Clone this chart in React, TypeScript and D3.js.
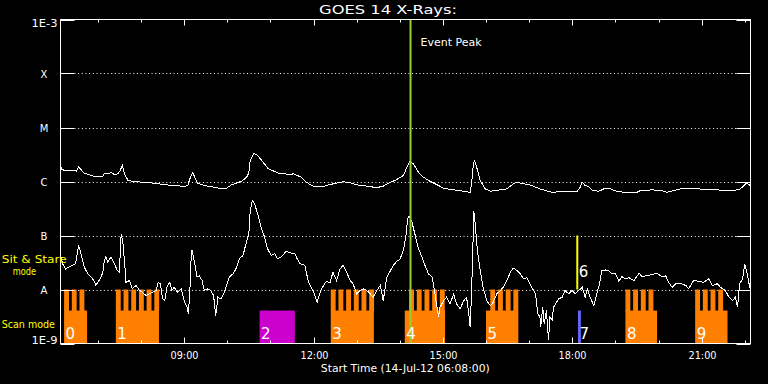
import React from 'react';
import * as d3 from 'd3';

// ---------- data ----------
const START = new Date(2012, 6, 14, 6, 8, 0);
const END = new Date(2012, 6, 14, 22, 8, 0);

// [minutes since 06:08, flux W/m^2]  — 1-8 Å channel
const goesLong: [number, number][] = [
  [0, 1.98e-6], [2, 1.67e-6], [6, 1.6e-6], [20, 1.6e-6], [22, 1.55e-6], [25, 1.87e-6], [33, 1.42e-6], [47, 1.25e-6], [59, 1.25e-6], [61, 1.39e-6],
  [71, 1.45e-6], [75, 1.35e-6], [80, 1.39e-6], [83, 1.6e-6], [86, 1.98e-6], [89, 1.39e-6], [94, 1.04e-6], [103, 1.0e-6], [117, 9.6e-7], [131, 9.3e-7],
  [145, 8.7e-7], [159, 8.4e-7], [173, 8.1e-7], [177, 8.4e-7], [180, 1.12e-6], [184, 1.47e-6], [187, 1.17e-6], [191, 9.3e-7], [201, 8.4e-7], [215, 7.8e-7],
  [224, 7.3e-7], [231, 7.5e-7], [238, 8.7e-7], [252, 1.01e-6], [259, 1.2e-6], [262, 1.45e-6], [264, 2.45e-6], [269, 3.26e-6], [273, 3.16e-6], [280, 2.45e-6],
  [289, 1.72e-6], [298, 1.53e-6], [305, 1.39e-6], [312, 1.39e-6], [319, 1.33e-6], [324, 1.39e-6], [335, 1.2e-6], [342, 9.7e-7], [352, 8.1e-7], [366, 8.1e-7],
  [375, 8.8e-7], [384, 9.3e-7], [393, 9.9e-7], [403, 9.5e-7], [412, 8.7e-7], [426, 8.2e-7], [440, 7.7e-7], [449, 8.2e-7], [458, 9.5e-7], [468, 1.09e-6],
  [477, 1.29e-6], [482, 1.84e-6], [486, 2.35e-6], [491, 2.13e-6], [498, 1.49e-6], [505, 1.2e-6], [514, 1.01e-6], [524, 8.7e-7], [533, 7.5e-7], [547, 7.0e-7],
  [561, 6.6e-7], [570, 6.3e-7], [572, 9.1e-7], [574, 1.84e-6], [576, 2.52e-6], [579, 1.84e-6], [584, 1.04e-6], [591, 7.3e-7], [598, 6.6e-7], [612, 7.0e-7],
  [621, 7.3e-7], [630, 9.1e-7], [635, 9.6e-7], [644, 9.1e-7], [654, 8.6e-7], [667, 7.3e-7], [684, 6.3e-7], [702, 6.6e-7], [719, 6.6e-7], [723, 7.8e-7],
  [726, 9.7e-7], [730, 8.4e-7], [735, 8.1e-7], [740, 6.8e-7], [749, 6.6e-7], [756, 7.3e-7], [765, 7.3e-7], [774, 6.6e-7], [788, 6.2e-7], [802, 6.3e-7],
  [807, 6.8e-7], [823, 7.0e-7], [837, 6.8e-7], [844, 6.3e-7], [863, 7.3e-7], [883, 7.3e-7], [902, 7.2e-7], [925, 6.8e-7], [944, 7.0e-7], [951, 8.4e-7],
  [954, 9.3e-7], [958, 8.8e-7], [960, 7.8e-7],
];

// [minutes since 06:08, flux W/m^2]  — 0.5-4 Å channel
const goesShort: [number, number][] = [
  [0, 4.3e-8], [3, 3.0e-8], [7, 2.4e-8], [14, 2.7e-8], [21, 3.0e-8], [24, 5.3e-8], [25, 6.5e-8], [28, 4.9e-8], [33, 2.6e-8], [38, 1.95e-8],
  [42, 1.74e-8], [47, 1.42e-8], [49, 1.19e-8], [52, 1.36e-8], [56, 1.65e-8], [59, 2.1e-8], [61, 3.4e-8], [63, 4.0e-8], [66, 3.2e-8], [70, 4.0e-8],
  [75, 3.0e-8], [79, 2.25e-8], [82, 2.1e-8], [84, 9.3e-8], [85, 1.0e-7], [87, 7.0e-8], [90, 2.25e-8], [91, 1.36e-8], [96, 1.47e-8], [100, 1.03e-8],
  [105, 1.19e-8], [110, 9.6e-9], [114, 8.9e-9], [119, 7.7e-9], [124, 8.3e-9], [128, 8.9e-9], [133, 9.6e-9], [136, 1.36e-8], [139, 1.28e-8], [142, 6.7e-9],
  [145, 6.2e-9], [148, 1.1e-8], [152, 1.36e-8], [155, 9.6e-9], [158, 1.1e-8], [163, 8.9e-9], [168, 1.03e-8], [172, 6.2e-9], [176, 4.7e-9], [178, 3.55e-9],
  [180, 9.6e-9], [182, 4.6e-8], [183, 5.3e-8], [186, 3.4e-8], [190, 1.7e-8], [193, 1.8e-8], [197, 1.47e-8], [200, 9.6e-9], [205, 1.03e-8], [209, 9.6e-9],
  [213, 7.7e-9], [216, 3.3e-9], [219, 7.2e-9], [223, 6.7e-9], [227, 8.3e-9], [230, 1.1e-8], [235, 1.7e-8], [240, 1.95e-8], [244, 2.4e-8], [249, 3.7e-8],
  [254, 4.3e-8], [258, 7.0e-8], [262, 1.07e-7], [264, 2.9e-7], [267, 4.45e-7], [270, 3.86e-7], [275, 2.35e-7], [279, 1.42e-7], [284, 9.3e-8], [288, 5.7e-8],
  [293, 4.3e-8], [298, 4.6e-8], [302, 3.7e-8], [307, 4.0e-8], [314, 5.1e-8], [321, 4.7e-8], [326, 4.65e-8], [328, 4.0e-8], [333, 3.0e-8], [340, 2.8e-8],
  [345, 1.36e-8], [349, 1.1e-8], [353, 8.3e-9], [357, 5.8e-9], [362, 9.6e-9], [366, 1.19e-8], [370, 1.42e-8], [375, 1.31e-8], [379, 2.1e-8], [384, 1.47e-8],
  [389, 2.4e-8], [393, 2.8e-8], [398, 2.1e-8], [403, 1.47e-8], [407, 1.28e-8], [412, 8.3e-9], [417, 9.6e-9], [421, 1.03e-8], [426, 9.6e-9], [431, 8.3e-9],
  [435, 7.2e-9], [440, 9.6e-9], [445, 1.19e-8], [449, 6.2e-9], [454, 1.7e-8], [458, 2.1e-8], [463, 2.8e-8], [468, 3.35e-8], [472, 3.55e-8], [477, 5.3e-8],
  [481, 1.07e-7], [483, 2.04e-7], [485, 2.25e-7], [489, 1.76e-7], [493, 1.07e-7], [498, 5.7e-8], [503, 4.0e-8], [507, 2.8e-8], [512, 1.95e-8], [517, 1.7e-8],
  [521, 8.3e-9], [526, 3.1e-9], [528, 4.7e-9], [533, 6.2e-9], [537, 7.2e-9], [542, 5.4e-9], [547, 8.3e-9], [551, 5.4e-9], [556, 4.4e-9], [561, 6.2e-9],
  [565, 7.2e-9], [568, 3.55e-9], [570, 2.0e-9], [572, 9.6e-9], [574, 8.1e-8], [575, 2.8e-7], [577, 1.65e-7], [580, 5.3e-8], [584, 2.25e-8], [588, 1.1e-8],
  [593, 6.2e-9], [598, 5.0e-9], [602, 5.8e-9], [607, 8.3e-9], [612, 9.6e-9], [616, 1.1e-8], [621, 1.47e-8], [626, 2.1e-8], [630, 2.5e-8], [635, 2.25e-8],
  [640, 1.95e-8], [644, 1.58e-8], [649, 1.65e-8], [654, 1.19e-8], [661, 8.3e-9], [664, 3.55e-9], [667, 3.1e-9], [668, 2.0e-9], [671, 4.7e-9], [673, 2.3e-9],
  [676, 4.1e-9], [679, 1.14e-9], [681, 3.1e-9], [684, 2.7e-9], [686, 4.7e-9], [690, 5.8e-9], [693, 6.7e-9], [698, 7.2e-9], [702, 9.6e-9], [707, 8.3e-9],
  [712, 9.6e-9], [716, 8.3e-9], [721, 9.6e-9], [726, 1.1e-8], [730, 7.2e-9], [733, 1.03e-8], [737, 7.2e-9], [742, 5.0e-9], [746, 8.3e-9], [750, 1.28e-8],
  [753, 2.25e-8], [758, 2.3e-8], [763, 2.2e-8], [767, 1.95e-8], [772, 1.95e-8], [777, 1.42e-8], [781, 1.74e-8], [786, 1.58e-8], [791, 1.65e-8], [798, 1.47e-8],
  [805, 2.0e-8], [809, 1.74e-8], [816, 1.8e-8], [823, 1.9e-8], [830, 2.0e-8], [837, 1.7e-8], [842, 1.8e-8], [846, 1.36e-8], [851, 1.1e-8], [856, 1.28e-8],
  [863, 1.28e-8], [870, 1.19e-8], [874, 1.03e-8], [881, 1.47e-8], [888, 1.42e-8], [895, 1.36e-8], [902, 1.58e-8], [907, 1.19e-8], [914, 1.28e-8], [918, 1.1e-8],
  [925, 9.6e-9], [930, 7.2e-9], [935, 6.2e-9], [939, 7.2e-9], [942, 4.7e-9], [945, 1.28e-8], [949, 1.58e-8], [952, 3.0e-8], [955, 2.1e-8], [958, 1.28e-8],
  [960, 9.6e-9],
];

const yTickValues = [1e-9, 1e-8, 1e-7, 1e-6, 1e-5, 1e-4, 1e-3];
const yTickLabels = ['1E-9', 'A', 'B', 'C', 'M', 'X', '1E-3'];
const gridValues = [1e-8, 1e-7, 1e-6, 1e-5, 1e-4];

// scan-mode observations (orange)
const scanLabels = ['0', '1', '3', '4', '5', '8', '9'];
const scanStart = ['06:13', '07:25', '12:24', '14:07', '16:00', '19:14', '20:51'];
const scanEnd = ['06:45', '08:25', '13:24', '15:03', '16:45', '19:58', '21:36'];
const scanTeethStart = ['06:13', '07:25', '12:24', '14:13', '16:06', '19:14', '20:51'];
const scanTeethCount = [3, 6, 6, 5, 4, 4, 4];
const SCAN_PERIOD_MIN = 10.7;
const SCAN_DWELL_MIN = 6.8;

// other observations
const sitStareLabel = '2';
const sitStareStart = '10:45';
const sitStareEnd = '11:34';
const lineObsLabel = '6';
const lineObsTime = '18:07';
const shortObsLabel = '7';
const shortObsStart = '18:08';
const shortObsEnd = '18:12';
const eventPeakTime = '14:15';

const TITLE = 'GOES 14 X-Rays:';
const XTITLE = 'Start Time (14-Jul-12 06:08:00)';

// ---------- helpers ----------
const at = (hm: string) => {
  const [h, m] = hm.split(':').map(Number);
  return new Date(2012, 6, 14, h, m, 0);
};
const addMin = (d: Date, m: number) => new Date(d.getTime() + m * 60000);

const ORANGE = '#ff8000';
const MAGENTA = '#cc00cc';
const BLUE = '#6464ff';
const YELLOW = '#ffff00';
const GREEN = '#9acd32';
const FONT = 'DejaVu Sans';

export default function App() {
  const W = 768, H = 384;
  const L = 60.5, R = 750.5, T = 19.5, B = 343.5;
  const x = d3.scaleTime().domain([START, END]).range([L, R]);
  const y = d3.scaleLog().domain([1e-9, 1e-3]).range([B, T]);
  const tm = (m: number) => addMin(START, m);
  const line = d3.line<[number, number]>().x(d => x(tm(d[0]))).y(d => y(d[1]));
  const hours = x.ticks(d3.timeHour.every(1) as any);
  const fmt = d3.timeFormat('%H:%M');

  const yA = y(1e-8);
  const yBB = y(1e-7);
  const ySplit = yA + 0.39 * (B - yA);

  return (
    <svg width={W} height={H} style={{ position: 'absolute', left: 0, top: 0, background: '#000' }}
      fontFamily={FONT}>
      <rect x={0} y={0} width={W} height={H} fill="#000" />

      {/* grid */}
      {gridValues.map((v, i) => (
        <line key={'g' + i} x1={L + 14} x2={R - 14} y1={Math.round(y(v)) + 0.5} y2={Math.round(y(v)) + 0.5}
          stroke="#fff" strokeWidth={1} strokeDasharray="1 2.67" />
      ))}

      {/* scan mode blocks */}
      {scanStart.map((s, i) => {
        const x0 = x(at(s));
        const x1 = x(at(scanEnd[i]));
        const teeth = d3.range(scanTeethCount[i]).map(k => {
          const ts = addMin(at(scanTeethStart[i]), k * SCAN_PERIOD_MIN);
          const te = addMin(ts, SCAN_DWELL_MIN);
          return [x(ts), x(te)];
        });
        return (
          <g key={'s' + i}>
            <rect x={x0} y={ySplit} width={x1 - x0} height={B - ySplit} fill={ORANGE} />
            {teeth.map((t, k) => (
              <rect key={k} x={t[0]} y={yA} width={t[1] - t[0]} height={ySplit - yA + 0.5} fill={ORANGE} />
            ))}
          </g>
        );
      })}
      <rect x={x(at(sitStareStart))} y={ySplit} width={x(at(sitStareEnd)) - x(at(sitStareStart))} height={B - ySplit} fill={MAGENTA} />
      <rect x={x(at(shortObsStart))} y={ySplit} width={x(at(shortObsEnd)) - x(at(shortObsStart))} height={B - ySplit} fill={BLUE} />

      {/* curves */}
      <path d={line(goesLong) || ''} fill="none" stroke="#fff" strokeWidth={1} shapeRendering="crispEdges" />
      <path d={line(goesShort) || ''} fill="none" stroke="#fff" strokeWidth={1} shapeRendering="crispEdges" />

      {/* markers */}
      <line x1={x(at(lineObsTime))} x2={x(at(lineObsTime))} y1={yBB} y2={yA} stroke={YELLOW} strokeWidth={2} />
      <line x1={x(at(eventPeakTime))} x2={x(at(eventPeakTime))} y1={T} y2={B} stroke={GREEN} strokeWidth={2} />
      <text x={x(at(eventPeakTime)) + 10} y={46} fill="#fff" fontSize={10.5} textLength={61} lengthAdjust="spacingAndGlyphs">Event Peak</text>

      {/* block labels */}
      {scanStart.map((s, i) => (
        <text key={'sl' + i} x={x(at(s)) + 1.5} y={339} fill="#fff" fontSize={15}>{scanLabels[i]}</text>
      ))}
      <text x={x(at(sitStareStart)) + 1.5} y={339} fill="#fff" fontSize={15}>{sitStareLabel}</text>
      <text x={x(at(shortObsStart)) + 1.5} y={339} fill="#fff" fontSize={15}>{shortObsLabel}</text>
      <text x={x(at(lineObsTime)) + 1.5} y={277} fill="#fff" fontSize={15}>{lineObsLabel}</text>

      {/* frame */}
      <rect x={L} y={T} width={R - L} height={B - T} fill="none" stroke="#fff" strokeWidth={1} />

      {/* y ticks */}
      {yTickValues.map((v, i) => {
        const yy = Math.round(y(v)) + 0.5;
        return (
          <g key={'yt' + i}>
            <line x1={L} x2={L + 14} y1={yy} y2={yy} stroke="#fff" />
            <line x1={R - 14} x2={R} y1={yy} y2={yy} stroke="#fff" />
          </g>
        );
      })}
      {yTickValues.map((v, i) => {
        const lab = yTickLabels[i];
        const yy = y(v);
        if (lab.length > 1) {
          const by = i === 0 ? B : T + 7.5;
          return <text key={'yl' + i} x={57.5} y={by} fill="#fff" fontSize={10} textAnchor="end" textLength={26} lengthAdjust="spacingAndGlyphs">{lab}</text>;
        }
        return <text key={'yl' + i} x={44} y={yy + 4.2} fill="#fff" fontSize={10} textAnchor="middle">{lab}</text>;
      })}

      {/* x ticks */}
      {hours.map((h, i) => {
        const xx = Math.round(x(h)) + 0.5;
        const major = h.getHours() % 3 === 0;
        const len = major ? 6 : 3;
        return (
          <g key={'xt' + i}>
            <line x1={xx} x2={xx} y1={T} y2={T + len} stroke="#fff" />
            <line x1={xx} x2={xx} y1={B} y2={B - len} stroke="#fff" />
            {major && (
              <text x={xx} y={358.5} fill="#fff" fontSize={10} textAnchor="middle" textLength={28} lengthAdjust="spacingAndGlyphs">{fmt(h)}</text>
            )}
          </g>
        );
      })}

      {/* titles */}
      <text x={388} y={14} fill="#fff" fontSize={12} textAnchor="middle" textLength={138} lengthAdjust="spacingAndGlyphs">{TITLE}</text>
      <text x={405.3} y={371.5} fill="#fff" fontSize={10} textAnchor="middle" textLength={169} lengthAdjust="spacingAndGlyphs">{XTITLE}</text>

      {/* mode labels */}
      <text x={1.7} y={263.3} fill={YELLOW} fontSize={11} textLength={65} lengthAdjust="spacingAndGlyphs">Sit &amp; Stare</text>
      <text x={12.7} y={275} fill={YELLOW} fontSize={11} textLength={23.3} lengthAdjust="spacingAndGlyphs">mode</text>
      <text x={1.7} y={327.7} fill={YELLOW} fontSize={11} textLength={53.3} lengthAdjust="spacingAndGlyphs">Scan mode</text>
    </svg>
  );
}
